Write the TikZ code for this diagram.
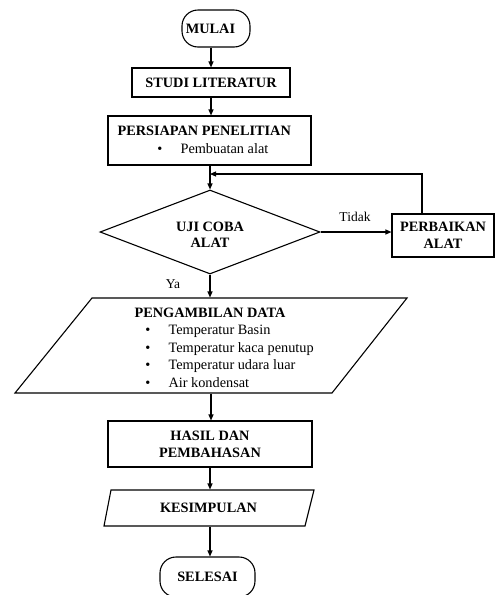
\documentclass[tikz,border=0pt]{standalone}
\usepackage{fontspec}
\setmainfont{Liberation Serif}
\usetikzlibrary{shapes.geometric,arrows.meta}
\begin{document}
\begin{tikzpicture}[x=1pt,y=-1pt,
  font=\fontsize{14.3}{17}\selectfont,
  line width=1.1pt,
  box/.style={draw, rectangle, inner sep=0pt, align=center, font=\fontsize{14.3}{17}\selectfont\bfseries},
  term/.style={draw, rectangle, rounded corners=16pt, inner sep=0pt, font=\fontsize{14.3}{17}\selectfont\bfseries},
  decis/.style={draw, diamond, aspect=2.6, inner sep=0pt},
  area/.style={rectangle, inner sep=0pt},
  txt/.style={inner sep=0pt},
  bold/.style={inner sep=0pt, align=center, font=\fontsize{14.3}{16.5}\selectfont\bfseries},
  lbl/.style={inner sep=0pt, font=\fontsize{13.5}{16}\selectfont},
  arr/.style={-{Triangle[length=6pt,width=5pt]}}
]
\clip (0,0) rectangle (495,595);

% MULAI
\node[term, minimum width=68pt, minimum height=37pt] (mulai) at (216,28.5) {};
\node[bold] (mulaitxt) at (210.5,29) {MULAI};

% STUDI LITERATUR
\node[box, minimum width=158pt, minimum height=29pt] (studi) at (211,82.5) {STUDI LITERATUR};

% PERSIAPAN PENELITIAN
\node[box, minimum width=203pt, minimum height=49pt] (persiapan) at (209.5,140.5) {};
\node[bold, anchor=base west] (persh) at (117,135) {PERSIAPAN PENELITIAN};
\node[txt, anchor=base] (persb) at (160,153) {\textbullet};
\node[txt, anchor=base west] (perst) at (180,153) {Pembuatan alat};

% UJI COBA ALAT
\node[decis, minimum width=220pt, minimum height=84pt] (uji) at (210,232) {};
\node[bold] (ujitxt) at (210,235) {UJI COBA\\ALAT};

% PERBAIKAN ALAT
\node[box, minimum width=102pt, minimum height=43pt] (perbaikan) at (443,235.5) {PERBAIKAN\\ALAT};

% PENGAMBILAN DATA (parallelogram)
\node[area, minimum width=240pt, minimum height=95pt] (ambil) at (211,345.5) {};
\draw (92,298) -- (407,298) -- (332,393) -- (15,393) -- cycle;
\node[bold, anchor=base] (ambh) at (210,317) {PENGAMBILAN DATA};
\node[txt, anchor=base] (b1) at (148,334) {\textbullet};
\node[txt, anchor=base west] (t1) at (168,334) {Temperatur Basin};
\node[txt, anchor=base] (b2) at (148,352) {\textbullet};
\node[txt, anchor=base west] (t2) at (168,352) {Temperatur kaca penutup};
\node[txt, anchor=base] (b3) at (148,369) {\textbullet};
\node[txt, anchor=base west] (t3) at (168,369) {Temperatur udara luar};
\node[txt, anchor=base] (b4) at (148,387) {\textbullet};
\node[txt, anchor=base west] (t4) at (168,387) {Air kondensat};

% HASIL DAN PEMBAHASAN
\node[box, minimum width=204pt, minimum height=46pt] (hasil) at (210,444) {HASIL DAN\\PEMBAHASAN};

% KESIMPULAN (parallelogram)
\node[area, minimum width=180pt, minimum height=36pt] (kes) at (210,508) {};
\draw (111,490) -- (314,490) -- (305,526) -- (104,526) -- cycle;
\node[bold] (kestxt) at (208.5,508) {KESIMPULAN};

% SELESAI
\node[term, minimum width=95pt, minimum height=40pt] (selesai) at (207.5,577) {SELESAI};

% connectors
\coordinate (join) at (210,174);
\coordinate (fbc) at (422,174);
\draw[arr] (mulai.south -| studi.north) -- (studi.north);
\draw[arr] (studi.south) -- (studi.south |- persiapan.north);
\draw[arr] (persiapan.south -| uji.north) -- (uji.north);
\draw[arr] (uji.east) -- (uji.east -| perbaikan.west);
\draw[arr] (perbaikan.north -| fbc) -- (fbc) -- (join);
\draw[arr] (uji.south) -- (uji.south |- ambil.north);
\draw[arr] (ambil.south) -- (ambil.south |- hasil.north);
\draw[arr] (hasil.south) -- (hasil.south |- kes.north);
\draw[arr] (kes.south) -- (kes.south |- selesai.north);

% labels
\node[lbl, anchor=base] (tidak) at (355,221) {Tidak};
\node[lbl, anchor=base] (ya) at (173,288) {Ya};
\end{tikzpicture}
\end{document}
